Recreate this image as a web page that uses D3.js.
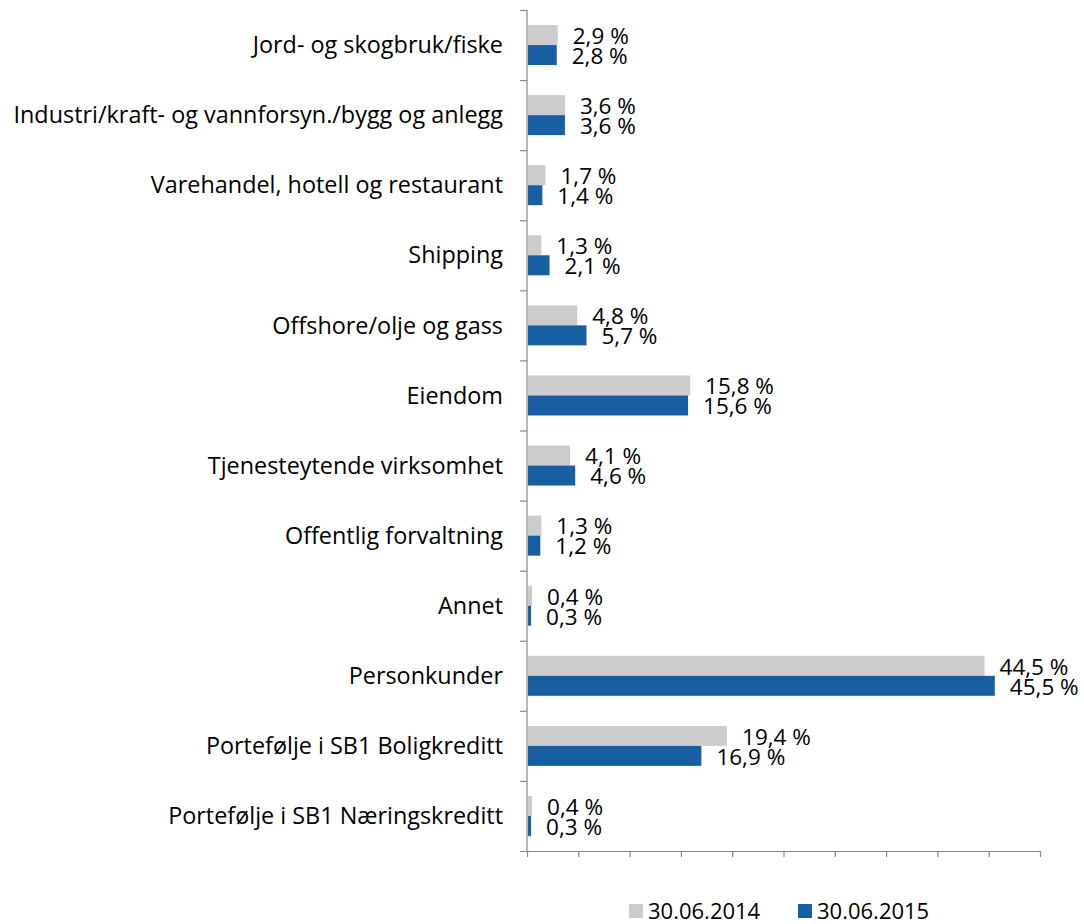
<!DOCTYPE html>
<html lang="en">
<head>
    <meta charset="UTF-8">
    <title>Utlån fordelt på sektor</title>
    <script src="https://d3js.org/d3.v7.min.js"></script>
    <style>
        body, html {
            margin: 0;
            background: #fff;
        }
        svg text {
            font-family: "Open Sans", "Noto Sans", sans-serif;
            fill: #000;
        }
    </style>
</head>
<body>
    <script>
        'use strict'

        // categories, top to bottom
        const categories = [
            'Jord- og skogbruk/fiske',
            'Industri/kraft- og vannforsyn./bygg og anlegg',
            'Varehandel, hotell og restaurant',
            'Shipping',
            'Offshore/olje og gass',
            'Eiendom',
            'Tjenesteytende virksomhet',
            'Offentlig forvaltning',
            'Annet',
            'Personkunder',
            'Portefølje i SB1 Boligkreditt',
            'Portefølje i SB1 Næringskreditt'
        ]
        const series = ['30.06.2014', '30.06.2015']
        const values2014 = [2.9, 3.6, 1.7, 1.3, 4.8, 15.8, 4.1, 1.3, 0.4, 44.5, 19.4, 0.4]
        const values2015 = [2.8, 3.6, 1.4, 2.1, 5.7, 15.6, 4.6, 1.2, 0.3, 45.5, 16.9, 0.3]
        const xTicks = [0, 5, 10, 15, 20, 25, 30, 35, 40, 45, 50]

        const colors = ['#cccccc', '#175fa2']

        const w = 1084
        const h = 924
        const margin = {top: 10, left: 527, right: 44, bottom: 73}

        const svg = d3.select('body')
            .append('svg')
            .attr('width', w)
            .attr('height', h)

        const x = d3.scaleLinear()
            .domain([0, 50])
            .range([margin.left, w - margin.right])

        const y = d3.scaleBand()
            .domain(categories)
            .range([margin.top, h - margin.bottom])

        const inner = d3.scaleBand()
            .domain(series)
            .range([y.bandwidth() / 2 - 20, y.bandwidth() / 2 + 20])

        const fmt = v => d3.format('.1f')(v).replace('.', ',') + ' %'

        // x axis (no labels)
        svg.append('g')
            .attr('transform', `translate(0, ${h - margin.bottom})`)
            .call(d3.axisBottom(x).tickValues(xTicks).tickFormat('').tickSize(6).tickSizeOuter(0))
            .call(g => g.select('.domain').attr('d', `M${margin.left - 7},0.5H${w - margin.right}`))
            .call(g => g.selectAll('line, path').attr('stroke', '#888').attr('stroke-width', 1.2))

        // y axis line and ticks between categories
        const yAxis = svg.append('g')
        yAxis.append('line')
            .attr('x1', margin.left).attr('x2', margin.left)
            .attr('y1', margin.top).attr('y2', h - margin.bottom)
            .attr('stroke', '#888').attr('stroke-width', 1.2)
        yAxis.selectAll('.ytick')
            .data(categories)
            .enter()
            .append('line')
            .attr('x1', margin.left - 7).attr('x2', margin.left)
            .attr('y1', d => y(d) + 0.5).attr('y2', d => y(d) + 0.5)
            .attr('stroke', '#888').attr('stroke-width', 1.2)

        // category labels
        svg.append('g')
            .selectAll('text')
            .data(categories)
            .enter()
            .append('text')
            .attr('x', margin.left - 24)
            .attr('y', d => y(d) + y.bandwidth() / 2)
            .attr('dy', '0.35em')
            .attr('text-anchor', 'end')
            .style('font-size', '23.4px')
            .text(d => d)

        const rows = categories.map((c, i) => ({cat: c, vals: [values2014[i], values2015[i]]}))

        const groups = svg.append('g')
            .selectAll('g')
            .data(rows)
            .enter()
            .append('g')
            .attr('transform', d => `translate(0, ${y(d.cat)})`)

        groups.selectAll('rect')
            .data(d => d.vals.map((v, i) => ({s: series[i], v: v, i: i})))
            .enter()
            .append('rect')
            .attr('x', x(0) + 1)
            .attr('y', d => inner(d.s))
            .attr('width', d => x(d.v) - x(0))
            .attr('height', inner.bandwidth())
            .attr('fill', d => colors[d.i])

        groups.selectAll('text')
            .data(d => d.vals.map((v, i) => ({s: series[i], v: v, i: i})))
            .enter()
            .append('text')
            .attr('x', d => x(d.v) + 16)
            .attr('y', d => inner(d.s) + inner.bandwidth() / 2 + 1)
            .attr('dy', '0.35em')
            .style('font-size', '22.5px')
            .text(d => fmt(d.v))

        // legend
        const legend = svg.append('g')
            .attr('transform', 'translate(629, 904)')
        const items = legend.selectAll('g')
            .data(series)
            .enter()
            .append('g')
            .attr('transform', (d, i) => `translate(${i * 169}, 0)`)
        items.append('rect')
            .attr('width', 14).attr('height', 14)
            .attr('fill', (d, i) => colors[i])
        items.append('text')
            .attr('x', 19)
            .attr('y', 7)
            .attr('dy', '0.36em')
            .style('font-size', '22px')
            .text(d => d)
    </script>
</body>
</html>
